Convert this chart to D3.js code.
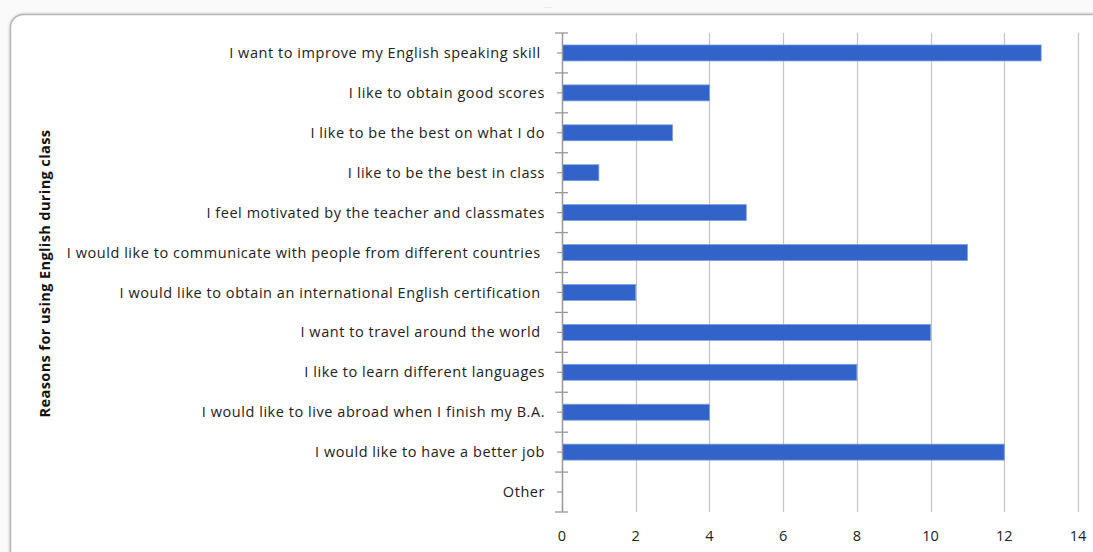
<!DOCTYPE html>
<html>
<head>
<meta charset="utf-8">
<script src="https://cdn.jsdelivr.net/npm/d3@7"></script>
<style>
  body { margin: 0; background: #fafafa; }
  svg { display: block; }
  text.cat { white-space: pre; }
</style>
</head>
<body>
<div id="chart"></div>
<script>
var width = 1093;
var height = 552;

// category labels, top to bottom (some carry a trailing space in the source)
var reasons = [
    "I want to improve my English speaking skill ",
    "I like to obtain good scores",
    "I like to be the best on what I do",
    "I like to be the best in class",
    "I feel motivated by the teacher and classmates",
    "I would like to communicate with people from different countries ",
    "I would like to obtain an international English certification ",
    "I want to travel around the world ",
    "I like to learn different languages",
    "I would like to live abroad when I finish my B.A.",
    "I would like to have a better job",
    "Other"
];
var counts = [13, 4, 3, 1, 5, 11, 2, 10, 8, 4, 12, 0];
var xTicks = [0, 2, 4, 6, 8, 10, 12, 14];
var yTitle = "Reasons for using English during class";

var margin = { top: 33, left: 562, right: 15, bottom: 40 };
var plotW = 1078 - margin.left;
var plotH = 512 - margin.top;

var svg = d3.select("#chart")
    .append("svg")
    .attr("width", width)
    .attr("height", height);

// panel with rounded corner and soft shadow
var defs = svg.append("defs");
var f = defs.append("filter").attr("id", "sh").attr("x", "-5%").attr("y", "-5%").attr("width", "110%").attr("height", "110%");
f.append("feDropShadow").attr("dx", 0).attr("dy", 0).attr("stdDeviation", 1.5).attr("flood-color", "#999").attr("flood-opacity", 0.6);

svg.append("rect")
    .attr("x", 10.5).attr("y", 14.5)
    .attr("width", 1120).attr("height", 600)
    .attr("rx", 13).attr("ry", 13)
    .attr("fill", "#fff")
    .attr("stroke", "#b8b8b8")
    .attr("stroke-width", 1.5)
    .attr("filter", "url(#sh)");

// little grip dots at the top
svg.append("text")
    .attr("x", 548).attr("y", 8)
    .attr("text-anchor", "middle")
    .attr("font-family", "DejaVu Sans")
    .attr("font-size", 6)
    .attr("fill", "#bbb")
    .text("....");

var x = d3.scaleLinear().domain([0, 14]).range([0, plotW]);
var y = d3.scaleBand().domain(reasons).range([0, plotH]).paddingInner(0.6).paddingOuter(0.3);
var yb = d3.scaleBand().domain(reasons).range([0, plotH]);

var g = svg.append("g").attr("transform", "translate(" + margin.left + "," + margin.top + ")");

// vertical gridlines
g.selectAll("line.grid")
    .data(xTicks.slice(1))
    .enter()
    .append("line")
    .attr("class", "grid")
    .attr("x1", function (d) { return Math.round(x(d)) + 0.5; })
    .attr("x2", function (d) { return Math.round(x(d)) + 0.5; })
    .attr("y1", 0)
    .attr("y2", plotH)
    .attr("stroke", "#c4c4c4")
    .attr("stroke-width", 1.2);

// bars
g.selectAll("rect.bar")
    .data(counts)
    .enter()
    .append("rect")
    .attr("class", "bar")
    .attr("x", 0.5)
    .attr("y", function (d, i) { return y(reasons[i]); })
    .attr("width", function (d) { return Math.max(0, x(d) - 0.5); })
    .attr("height", y.bandwidth())
    .attr("fill", "#3163c9")
    .attr("stroke", "#7d9fe0")
    .attr("stroke-width", function (d) { return d > 0 ? 0.8 : 0; });

// y axis line and ticks
g.append("line")
    .attr("x1", 0.5).attr("x2", 0.5)
    .attr("y1", 0).attr("y2", plotH)
    .attr("stroke", "#999").attr("stroke-width", 1.5);

var bounds = reasons.map(function (r) { return yb(r); }).concat([plotH]);
g.selectAll("line.btick")
    .data(bounds)
    .enter()
    .append("line")
    .attr("x1", -7).attr("x2", 6)
    .attr("y1", function (d) { return d; })
    .attr("y2", function (d) { return d; })
    .attr("stroke", "#999").attr("stroke-width", 1.3);

g.selectAll("line.ctick")
    .data(reasons)
    .enter()
    .append("line")
    .attr("x1", -5).attr("x2", 1)
    .attr("y1", function (d) { return yb(d) + yb.bandwidth() / 2; })
    .attr("y2", function (d) { return yb(d) + yb.bandwidth() / 2; })
    .attr("stroke", "#999").attr("stroke-width", 1.2);

// category labels
g.selectAll("text.cat")
    .data(reasons)
    .enter()
    .append("text")
    .attr("class", "cat")
    .attr("x", -17)
    .attr("y", function (d) { return yb(d) + yb.bandwidth() / 2; })
    .attr("dy", "0.35em")
    .attr("text-anchor", "end")
    .attr("font-family", "'Open Sans', sans-serif")
    .attr("font-size", 14.5)
    .attr("letter-spacing", 0.55)
    .attr("fill", "#222")
    .text(function (d) { return d; });

// x tick labels
g.selectAll("text.xt")
    .data(xTicks)
    .enter()
    .append("text")
    .attr("x", function (d) { return x(d); })
    .attr("y", plotH + 29)
    .attr("text-anchor", "middle")
    .attr("font-family", "'Open Sans', sans-serif")
    .attr("font-size", 14.5)
    .attr("fill", "#222")
    .text(function (d) { return d; });

// y title
svg.append("text")
    .attr("transform", "translate(50," + (margin.top + plotH / 2 + 1) + ") rotate(-90)")
    .attr("text-anchor", "middle")
    .attr("font-family", "'Open Sans', sans-serif")
    .attr("font-weight", "bold")
    .attr("font-size", 14.5)
    .attr("letter-spacing", 0.4)
    .attr("fill", "#111")
    .text(yTitle);
</script>
</body>
</html>
